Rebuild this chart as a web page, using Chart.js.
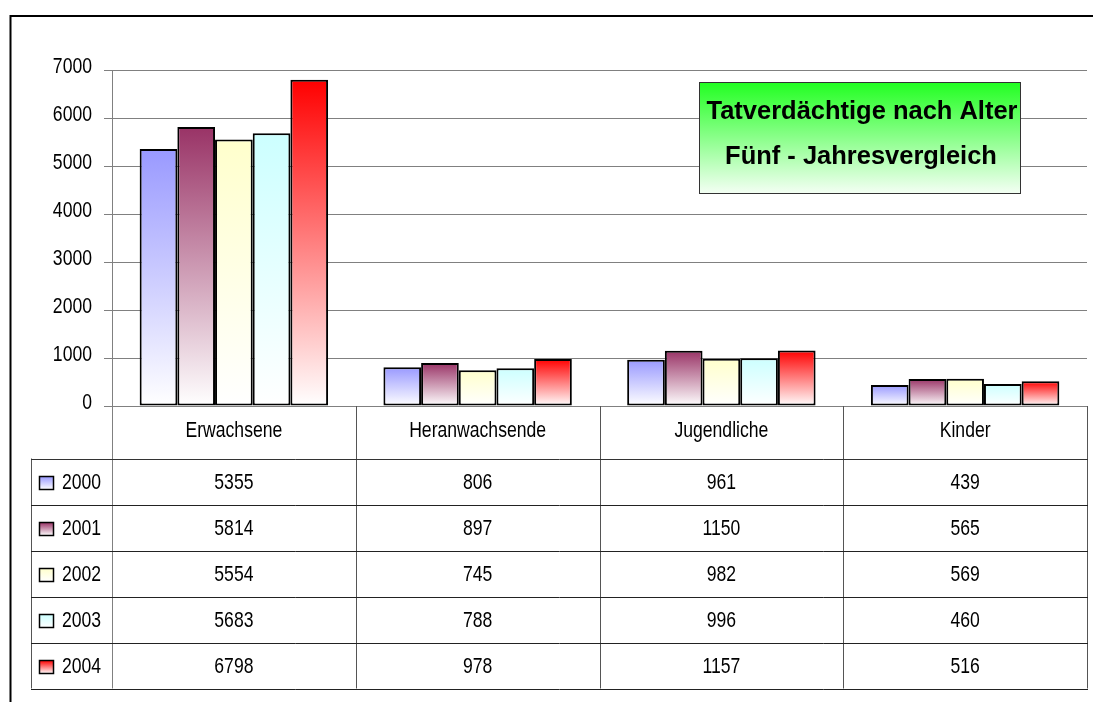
<!DOCTYPE html>
<html>
<head>
<meta charset="utf-8">
<script src="https://cdn.jsdelivr.net/npm/chart.js@4/dist/chart.umd.min.js"></script>
<style>
html,body{margin:0;padding:0;background:#fff;}
canvas{display:block;}
</style>
</head>
<body>
<canvas id="c" width="1093" height="702"></canvas>
<script>
const categories = ['Erwachsene', 'Heranwachsende', 'Jugendliche', 'Kinder'];
const years = ['2000', '2001', '2002', '2003', '2004'];
const v2000 = [5355, 806, 961, 439];
const v2001 = [5814, 897, 1150, 565];
const v2002 = [5554, 745, 982, 569];
const v2003 = [5683, 788, 996, 460];
const v2004 = [6798, 978, 1157, 516];
const seriesValues = [v2000, v2001, v2002, v2003, v2004];
const titleLines = ['Tatverdächtige nach Alter', 'Fünf - Jahresvergleich'];

const palette = ['#9999FF', '#993366', '#FFFFCC', '#CCFFFF', '#FF0000'];
const FONT = "'Liberation Sans', Arial, sans-serif";

function barGradient(color) {
  return (ctx) => {
    const chart = ctx.chart;
    const ys = chart.scales && chart.scales.y;
    if (!ys || ctx.type !== 'data') return color;
    const top = ys.getPixelForValue(ctx.raw);
    const bot = ys.getPixelForValue(0);
    if (!isFinite(top) || !isFinite(bot) || top === bot) return color;
    const g = chart.ctx.createLinearGradient(0, top, 0, bot);
    g.addColorStop(0, color);
    g.addColorStop(1, '#ffffff');
    return g;
  };
}

function txt(ctx, s, x, y, size, sx, align, bold) {
  ctx.save();
  ctx.translate(x, y);
  ctx.scale(sx, 1);
  ctx.font = (bold ? 'bold ' : '') + size + 'px ' + FONT;
  ctx.fillStyle = '#000';
  ctx.textAlign = align;
  ctx.textBaseline = 'middle';
  ctx.fillText(s, 0, 0);
  ctx.restore();
}

function hline(ctx, x1, x2, y, color) {
  ctx.beginPath();
  ctx.strokeStyle = color;
  ctx.lineWidth = 1;
  const yy = Math.round(y) + 0.5;
  ctx.moveTo(x1, yy); ctx.lineTo(x2, yy); ctx.stroke();
}
function vline(ctx, x, y1, y2, color) {
  ctx.beginPath();
  ctx.strokeStyle = color;
  ctx.lineWidth = 1;
  const xx = Math.round(x) + 0.5;
  ctx.moveTo(xx, y1); ctx.lineTo(xx, y2); ctx.stroke();
}

const deco = {
  id: 'deco',
  beforeDraw(chart) {
    const ctx = chart.ctx;
    ctx.save();
    ctx.fillStyle = '#fff';
    ctx.fillRect(0, 0, chart.width, chart.height);
    ctx.strokeStyle = '#000';
    ctx.lineWidth = 2;
    ctx.beginPath();
    ctx.moveTo(10.5, chart.height + 10);
    ctx.lineTo(10.5, 16);
    ctx.lineTo(chart.width + 10, 16);
    ctx.stroke();
    ctx.restore();
  },
  afterDraw(chart) {
    const ctx = chart.ctx;
    const ca = chart.chartArea;
    const xs = chart.scales.x;
    const ys = chart.scales.y;
    ctx.save();

    // y tick labels
    ys.ticks.forEach((t, i) => {
      const py = ys.getPixelForTick(i);
      txt(ctx, String(t.value), 92, py - 3.5, 22, 0.8, 'right', false);
    });

    // title box
    const bx = 699.5, by = 82.5, bw = 321, bh = 111;
    const g = ctx.createLinearGradient(0, by, 0, by + bh);
    g.addColorStop(0, '#22ff22');
    g.addColorStop(1, '#f4fff4');
    ctx.fillStyle = g;
    ctx.fillRect(bx, by, bw, bh);
    ctx.strokeStyle = '#333';
    ctx.lineWidth = 1;
    ctx.strokeRect(bx, by, bw, bh);
    txt(ctx, titleLines[0], 862, 111.5, 26, 0.98, 'center', true);
    txt(ctx, titleLines[1], 861, 156.5, 26, 0.98, 'center', true);

    // data table
    const centers = categories.map((_, i) => xs.getPixelForValue(i));
    const half = (centers[1] - centers[0]) / 2;
    const bounds = [centers[0] - half].concat(centers.map(c => c + half));
    const headTop = ca.bottom;
    const headBottom = ca.bottom + 52.5;
    const rowH = 46;
    const tableBottom = headBottom + rowH * years.length;
    const legLeft = 31;

    // verticals
    bounds.forEach((b, i) => {
      vline(ctx, b, headTop, tableBottom, i === 0 ? '#808080' : '#555');
    });
    vline(ctx, legLeft, headBottom, tableBottom, '#555');
    // horizontals
    hline(ctx, legLeft, bounds[bounds.length - 1] + 1, headBottom, '#333');
    for (let r = 1; r <= years.length; r++) {
      hline(ctx, legLeft, bounds[bounds.length - 1] + 1, headBottom + r * rowH, '#222');
    }

    // header labels
    categories.forEach((c, i) => {
      txt(ctx, c, centers[i], headTop + 24.5, 22, 0.8, 'center', false);
    });

    // rows
    years.forEach((yr, r) => {
      const rc = headBottom + r * rowH + rowH / 2 + 1;
      const mx = 39.5, my = Math.round(rc - 7) + 0.5;
      const mg = ctx.createLinearGradient(0, my, 0, my + 13);
      mg.addColorStop(0, palette[r]);
      mg.addColorStop(1, '#ffffff');
      ctx.fillStyle = mg;
      ctx.fillRect(mx, my, 14, 13);
      ctx.strokeStyle = '#000';
      ctx.lineWidth = 1.5;
      ctx.strokeRect(mx, my, 14, 13);
      txt(ctx, yr, 62, rc, 22, 0.8, 'left', false);
      seriesValues[r].forEach((v, i) => {
        txt(ctx, String(v), centers[i], rc, 22, 0.8, 'center', false);
      });
    });

    ctx.restore();
  }
};

const chart = new Chart(document.getElementById('c'), {
  type: 'bar',
  data: {
    labels: categories,
    datasets: years.map((yr, k) => ({
      label: yr,
      data: seriesValues[k],
      backgroundColor: barGradient(palette[k]),
      borderColor: '#000',
      borderWidth: 2,
      borderSkipped: false,
      categoryPercentage: 0.773,
      barPercentage: 1.0
    }))
  },
  options: {
    responsive: false,
    animation: false,
    layout: { padding: { top: 70, right: 6, bottom: 296, left: 0 } },
    plugins: {
      legend: { display: false },
      title: { display: false },
      tooltip: { enabled: false }
    },
    scales: {
      x: { display: false },
      y: {
        min: 0,
        max: 7000,
        ticks: { stepSize: 1000, display: false },
        grid: { color: '#808080', lineWidth: 1, drawTicks: true, tickLength: 8, tickColor: '#808080' },
        border: { display: true, color: '#808080', width: 1 },
        afterFit: (s) => { s.width = 112; }
      }
    }
  },
  plugins: [deco]
});
</script>
</body>
</html>
